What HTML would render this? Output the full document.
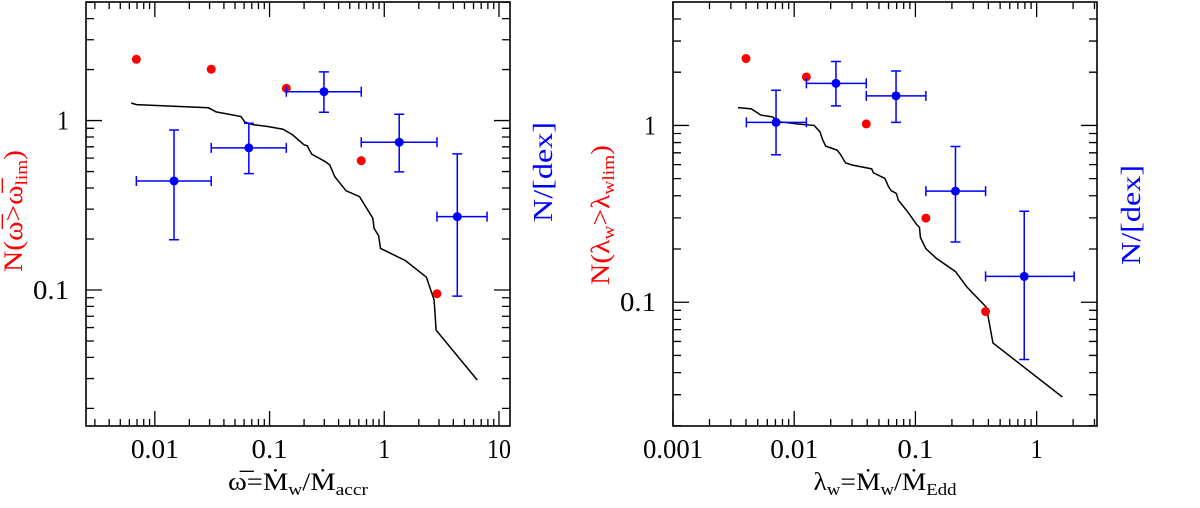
<!DOCTYPE html>
<html><head><meta charset="utf-8"><style>
html,body{margin:0;padding:0;background:#fff;width:1200px;height:508px;overflow:hidden}
svg{display:block}
text{font-family:"Liberation Serif","DejaVu Serif",serif}
</style></head><body>
<svg id="fig" width="1200" height="508" xmlns="http://www.w3.org/2000/svg">
<g id="p1"></g>
<g id="p2"></g>
<text transform="translate(22,211) rotate(-90)" text-anchor="middle" font-size="26" fill="#f00" textLength="122" lengthAdjust="spacingAndGlyphs">N(ω̅&gt;ω̅<tspan font-size="17" dy="5">lim</tspan><tspan dy="-5">)</tspan></text>
<text transform="translate(552,172) rotate(-90)" text-anchor="middle" font-size="27" fill="#00f" textLength="100" lengthAdjust="spacingAndGlyphs">N/[dex]</text>
<text x="298" y="490" text-anchor="middle" font-size="25" textLength="140" lengthAdjust="spacingAndGlyphs">ω̅=Ṁ<tspan font-size="17" dy="5">w</tspan><tspan dy="-5">/Ṁ</tspan><tspan font-size="17" dy="5">accr</tspan></text>
<text transform="translate(609,215) rotate(-90)" text-anchor="middle" font-size="26" fill="#f00" textLength="140" lengthAdjust="spacingAndGlyphs">N(λ<tspan font-size="17" dy="5">w</tspan><tspan dy="-5">&gt;λ</tspan><tspan font-size="17" dy="5">wlim</tspan><tspan dy="-5">)</tspan></text>
<text transform="translate(1140,215) rotate(-90)" text-anchor="middle" font-size="27" fill="#00f" textLength="100" lengthAdjust="spacingAndGlyphs">N/[dex]</text>
<text x="885" y="490" text-anchor="middle" font-size="25" textLength="143" lengthAdjust="spacingAndGlyphs">λ<tspan font-size="17" dy="5">w</tspan><tspan dy="-5">=Ṁ</tspan><tspan font-size="17" dy="5">w</tspan><tspan dy="-5">/Ṁ</tspan><tspan font-size="17" dy="5">Edd</tspan></text>
</svg>
<script>
// Left panel data
const leftRedX=[0.0069,0.031,0.14,0.63,2.88];
const leftRedY=[2.3,2.01,1.55,0.58,0.095];
const leftBlueX=[0.0147,0.066,0.298,1.35,4.33];
const leftBlueY=[0.44,0.69,1.48,0.745,0.271];
const leftBlueXlo=[0.0069,0.031,0.14,0.63,2.88];
const leftBlueXhi=[0.031,0.14,0.63,2.88,7.87];
const leftBlueYlo=[0.198,0.486,1.12,0.498,0.092];
const leftBlueYhi=[0.88,0.965,1.94,1.09,0.636];
const leftLineX=[0.00622,0.00692,0.0293,0.0342,0.0564,0.0608,0.071,0.0964,0.131,0.159,0.2,0.213,0.233,0.305,0.335,0.37,0.465,0.608,0.795,0.815,0.893,0.927,1.53,2.33,2.72,2.83,6.46];
const leftLineY=[1.27,1.243,1.19,1.126,1.056,0.982,0.947,0.922,0.889,0.823,0.719,0.71,0.634,0.573,0.547,0.467,0.385,0.356,0.265,0.231,0.209,0.176,0.149,0.119,0.0873,0.058,0.0294];
const leftXTicks=[0.01,0.1,1,10];
const leftXTickLabels=["0.01","0.1","1","10"];
const leftYTicks=[0.1,1];
const leftYTickLabels=["0.1","1"];
// Right panel data
const rightRedX=[0.004,0.0126,0.0393,0.122,0.379];
const rightRedY=[2.39,1.88,1.02,0.299,0.0886];
const rightBlueX=[0.00708,0.0221,0.0692,0.214,0.79];
const rightBlueY=[1.04,1.73,1.47,0.425,0.14];
const rightBlueXlo=[0.00403,0.0126,0.0393,0.122,0.379];
const rightBlueXhi=[0.0126,0.0393,0.122,0.379,2.04];
const rightBlueYlo=[0.682,1.29,1.04,0.219,0.0474];
const rightBlueYhi=[1.58,2.30,2.03,0.76,0.327];
const rightLineX=[0.00344,0.00443,0.0053,0.00659,0.00762,0.011,0.0146,0.0163,0.0172,0.0182,0.0226,0.024,0.0265,0.0303,0.0435,0.0451,0.056,0.0601,0.0633,0.0697,0.0722,0.0865,0.102,0.108,0.11,0.122,0.149,0.214,0.266,0.383,0.396,0.436,1.63];
const rightLineY=[1.26,1.24,1.144,1.118,1.048,1.017,1.0,0.92,0.826,0.764,0.725,0.688,0.614,0.596,0.568,0.539,0.501,0.449,0.427,0.412,0.378,0.324,0.276,0.265,0.232,0.201,0.177,0.149,0.122,0.094,0.0844,0.0588,0.0291];
const rightXTicks=[0.001,0.01,0.1,1];
const rightXTickLabels=["0.001","0.01","0.1","1"];
const rightYTicks=[0.1,1];
const rightYTickLabels=["0.1","1"];

const NS="http://www.w3.org/2000/svg";
function mk(parent,tag,attrs){const e=document.createElementNS(NS,tag);for(const k in attrs)e.setAttribute(k,attrs[k]);parent.appendChild(e);return e;}

function panel(g,cfg){
  const L=cfg.L,R=cfg.R,T=2,B=426;
  const sx=v=>L+(Math.log10(v)-cfg.x0)/(cfg.x1-cfg.x0)*(R-L);
  const sy=v=>B-(Math.log10(v)-cfg.y0)/(cfg.y1-cfg.y0)*(B-T);
  const fr=mk(g,'rect',{x:L,y:T,width:R-L,height:B-T,fill:'none',stroke:'#000','stroke-width':1.6});
  
  
  for(let d=Math.floor(cfg.x0);d<=Math.ceil(cfg.x1);d++){
    for(let m=1;m<10;m++){
      const v=m*Math.pow(10,d);const lv=Math.log10(v);
      if(lv<cfg.x0-1e-6||lv>cfg.x1+1e-6)continue;
      const x=sx(v);const len=m===1?15:7;
      const t=mk(g,'path',{d:`M${x},${B}V${B-len}M${x},${T}V${T+len}`,stroke:'#000','stroke-width':1.3});
      
      
    }
  }
  for(let d=Math.floor(cfg.y0);d<=Math.ceil(cfg.y1);d++){
    for(let m=1;m<10;m++){
      const v=m*Math.pow(10,d);const lv=Math.log10(v);
      if(lv<cfg.y0-1e-6||lv>cfg.y1+1e-6)continue;
      const y=sy(v);const len=m===1?16:8;
      const t=mk(g,'path',{d:`M${L},${y}H${L+len}M${R},${y}H${R-len}`,stroke:'#000','stroke-width':1.3});
      
      
    }
  }
  cfg.xt.forEach((v,i)=>{const t=mk(g,'text',{x:sx(v),y:458,'text-anchor':'middle','font-size':27,textLength:cfg.xl[i].length*12,lengthAdjust:'spacingAndGlyphs'});t.textContent=cfg.xl[i];
    
    });
  cfg.yt.forEach((v,i)=>{const t=mk(g,'text',{x:L-17,y:sy(v)+9,'text-anchor':'end','font-size':27,textLength:cfg.yl[i].length*12,lengthAdjust:'spacingAndGlyphs'});t.textContent=cfg.yl[i];
    
    });
  const pts=cfg.lx.map((v,i)=>sx(v)+','+sy(cfg.ly[i])).join(' ');
  const pl=mk(g,'polyline',{points:pts,fill:'none',stroke:'#000','stroke-width':1.5});
  
  
  cfg.rx.forEach((v,i)=>{const c=mk(g,'circle',{cx:sx(v),cy:sy(cfg.ry[i]),r:4.5,fill:'#f00'});
    
    });
  cfg.bx.forEach((v,i)=>{
    const x=sx(v),y=sy(cfg.by[i]),xa=sx(cfg.bxl[i]),xb=sx(cfg.bxh[i]),ya=sy(cfg.byl[i]),yb=sy(cfg.byh[i]);
    const e=mk(g,'path',{d:`M${xa},${y}H${xb}M${xa},${y-5}V${y+5}M${xb},${y-5}V${y+5}M${x},${ya}V${yb}M${x-5},${ya}H${x+5}M${x-5},${yb}H${x+5}`,stroke:'#00f','stroke-width':1.5,fill:'none'});
    
    
    const c=mk(g,'circle',{cx:x,cy:y,r:4.5,fill:'#00f'});
    
    
  });
}
panel(document.getElementById('p1'),{L:86,R:510,x0:-2.60,x1:1.096,y0:-1.803,y1:0.70,
  xt:leftXTicks,xl:leftXTickLabels,yt:leftYTicks,yl:leftYTickLabels,lx:leftLineX,ly:leftLineY,
  rx:leftRedX,ry:leftRedY,bx:leftBlueX,by:leftBlueY,bxl:leftBlueXlo,bxh:leftBlueXhi,byl:leftBlueYlo,byh:leftBlueYhi});
panel(document.getElementById('p2'),{L:673,R:1097,x0:-3,x1:0.498,y0:-1.70,y1:0.698,
  xt:rightXTicks,xl:rightXTickLabels,yt:rightYTicks,yl:rightYTickLabels,lx:rightLineX,ly:rightLineY,
  rx:rightRedX,ry:rightRedY,bx:rightBlueX,by:rightBlueY,bxl:rightBlueXlo,bxh:rightBlueXhi,byl:rightBlueYlo,byh:rightBlueYhi});
</script>
</body></html>
